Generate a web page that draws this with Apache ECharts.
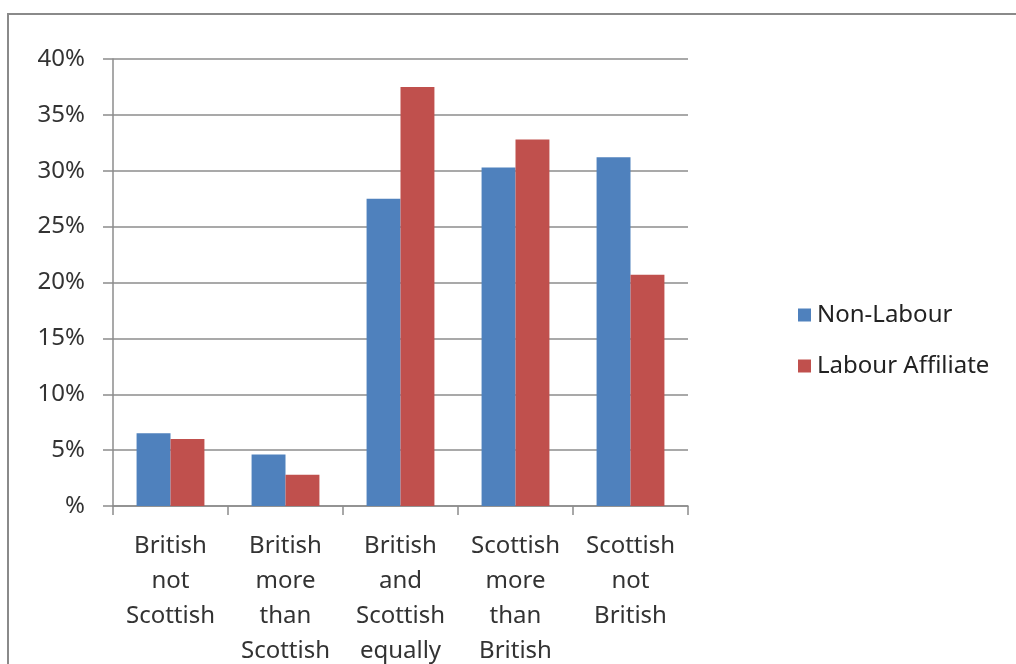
<!DOCTYPE html>
<html>
<head>
<meta charset="utf-8">
<script src="https://cdn.jsdelivr.net/npm/echarts@6/dist/echarts.min.js"></script>
<style>
  html, body { margin: 0; padding: 0; background: #fff; }
  #chart { width: 1016px; height: 664px; }
</style>
</head>
<body>
<div id="chart"></div>
<script>
// Identity groups (x axis) and the share of each group per affiliation, in percent
const categories = [
  'British\nnot\nScottish',
  'British\nmore\nthan\nScottish',
  'British\nand\nScottish\nequally',
  'Scottish\nmore\nthan\nBritish',
  'Scottish\nnot\nBritish'
];
const nonLabour = [6.5, 4.6, 27.5, 30.3, 31.2];
const labourAffiliate = [6.0, 2.8, 37.5, 32.8, 20.7];
const seriesNames = ['Non-Labour', 'Labour Affiliate'];

const FONT = '"Noto Sans", "Open Sans", sans-serif';
const TEXT = '#333333';
const LINE = '#8c8c8c';

const chart = echarts.init(document.getElementById('chart'), null, { renderer: 'canvas' });
chart.setOption({
  animation: false,
  backgroundColor: '#fff',
  graphic: [{
    type: 'rect',
    shape: { x: 8, y: 14, width: 1030, height: 680 },
    style: { fill: 'none', stroke: '#8a8a8a', lineWidth: 2 },
    silent: true
  }],
  grid: {
    left: 113, top: 59, width: 575, height: 447,
    containLabel: false, outerBoundsMode: 'none'
  },
  legend: {
    orient: 'vertical',
    left: 793, top: 298,
    itemWidth: 13, itemHeight: 13,
    itemGap: 27,
    icon: 'rect',
    textStyle: { fontFamily: FONT, fontSize: 24, color: '#222', padding: [0, 0, 0, 1] },
    data: seriesNames
  },
  xAxis: {
    type: 'category',
    data: categories,
    axisLine: { lineStyle: { color: LINE, width: 1.5 } },
    axisTick: { show: true, alignWithLabel: false, length: 9, lineStyle: { color: LINE, width: 1.5 } },
    axisLabel: {
      interval: 0, margin: 23,
      fontFamily: FONT, fontSize: 24, color: TEXT, lineHeight: 35,
      align: 'center'
    }
  },
  yAxis: {
    type: 'value',
    min: 0, max: 40, interval: 5,
    axisLine: { show: true, lineStyle: { color: LINE, width: 1.5 } },
    axisTick: { show: true, length: 10, lineStyle: { color: LINE, width: 1.5 } },
    splitLine: { lineStyle: { color: LINE, width: 1.5 } },
    axisLabel: {
      margin: 28,
      fontFamily: FONT, fontSize: 24, color: TEXT,
      formatter: v => (v === 0 ? '%' : v + '%')
    }
  },
  series: [
    {
      name: seriesNames[0], type: 'bar', data: nonLabour,
      barGap: '0%', barCategoryGap: '41%',
      itemStyle: { color: '#4F81BD' }
    },
    {
      name: seriesNames[1], type: 'bar', data: labourAffiliate,
      barGap: '0%', barCategoryGap: '41%',
      itemStyle: { color: '#C0504D' }
    }
  ]
});
</script>
</body>
</html>
